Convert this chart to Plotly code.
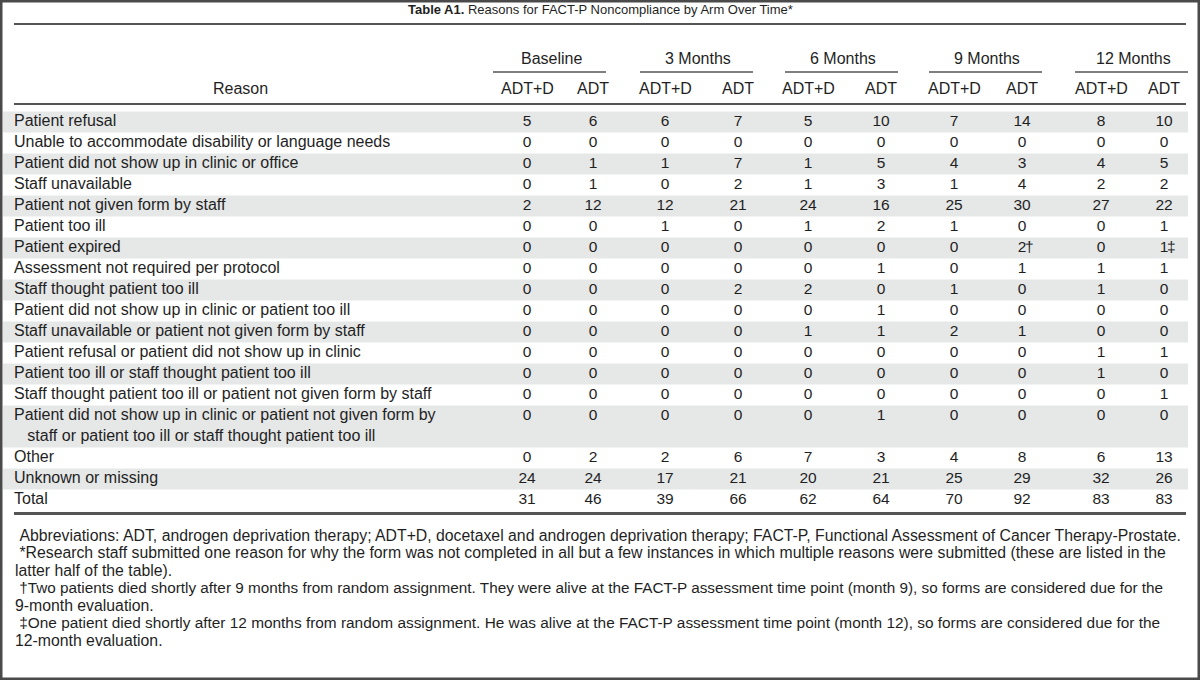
import plotly.graph_objects as go

# Table A1 - reasons for FACT-P noncompliance by arm over time
reasons = [
    "Patient refusal",
    "Unable to accommodate disability or language needs",
    "Patient did not show up in clinic or office",
    "Staff unavailable",
    "Patient not given form by staff",
    "Patient too ill",
    "Patient expired",
    "Assessment not required per protocol",
    "Staff thought patient too ill",
    "Patient did not show up in clinic or patient too ill",
    "Staff unavailable or patient not given form by staff",
    "Patient refusal or patient did not show up in clinic",
    "Patient too ill or staff thought patient too ill",
    "Staff thought patient too ill or patient not given form by staff",
    "Patient did not show up in clinic or patient not given form by<br>\u00a0\u00a0\u00a0staff or patient too ill or staff thought patient too ill",
    "Other",
    "Unknown or missing",
    "Total",
]
time_points = ["Baseline", "3 Months", "6 Months", "9 Months", "12 Months"]
arms = ["ADT+D", "ADT"]

baseline_adtd = [5, 0, 0, 0, 2, 0, 0, 0, 0, 0, 0, 0, 0, 0, 0, 0, 24, 31]
baseline_adt = [6, 0, 1, 1, 12, 0, 0, 0, 0, 0, 0, 0, 0, 0, 0, 2, 24, 46]
m3_adtd = [6, 0, 1, 0, 12, 1, 0, 0, 0, 0, 0, 0, 0, 0, 0, 2, 17, 39]
m3_adt = [7, 0, 7, 2, 21, 0, 0, 0, 2, 0, 0, 0, 0, 0, 0, 6, 21, 66]
m6_adtd = [5, 0, 1, 1, 24, 1, 0, 0, 2, 0, 1, 0, 0, 0, 0, 7, 20, 62]
m6_adt = [10, 0, 5, 3, 16, 2, 0, 1, 0, 1, 1, 0, 0, 0, 1, 3, 21, 64]
m9_adtd = [7, 0, 4, 1, 25, 1, 0, 0, 1, 0, 2, 0, 0, 0, 0, 4, 25, 70]
m9_adt = [14, 0, 3, 4, 30, 0, 2, 1, 0, 0, 1, 0, 0, 0, 0, 8, 29, 92]
m12_adtd = [8, 0, 4, 2, 27, 0, 0, 1, 1, 0, 0, 1, 1, 0, 0, 6, 32, 83]
m12_adt = [10, 0, 5, 2, 22, 1, 1, 1, 0, 0, 0, 1, 0, 1, 0, 13, 26, 83]

columns = [baseline_adtd, baseline_adt, m3_adtd, m3_adt, m6_adtd,
           m6_adt, m9_adtd, m9_adt, m12_adtd, m12_adt]
# footnote marks: (column index, row index, mark)
marks = [(7, 6, "\u2020"), (9, 6, "\u2021")]

title = "<b>Table A1.</b> Reasons for FACT-P Noncompliance by Arm Over Time*"
footnotes = [
    "\u00a0Abbreviations: ADT, androgen deprivation therapy; ADT+D, docetaxel and androgen deprivation therapy; FACT-P, Functional Assessment of Cancer Therapy-Prostate.",
    "\u00a0*Research staff submitted one reason for why the form was not completed in all but a few instances in which multiple reasons were submitted (these are listed in the",
    "latter half of the table).",
    "\u00a0\u2020Two patients died shortly after 9 months from random assignment. They were alive at the FACT-P assessment time point (month 9), so forms are considered due for the",
    "9-month evaluation.",
    "\u00a0\u2021One patient died shortly after 12 months from random assignment. He was alive at the FACT-P assessment time point (month 12), so forms are considered due for the",
    "12-month evaluation.",
]

# layout geometry (pixels)
W, H = 1200, 680
FONT = "Liberation Sans"
TXT = "#1f1f1f"
RULE = "#555555"
SHADE = "#e6e7e7"
col_x = [527, 593, 665, 738, 808, 881, 954, 1022, 1101, 1164]
group_x = [551, 698, 843, 987, 1133]
first_line_y = 122
line_h = 21
foot_sizes = [15.8, 15.8, 15.8, 15.3, 15.8, 15.4, 15.8]

# y of each row (first text line) and number of lines
row_lines = [2 if "<br>" in r else 1 for r in reasons]
row_y = []
y = first_line_y
for n in row_lines:
    row_y.append(y)
    y += line_h * n

fig = go.Figure()

shapes = []
for i, (ry, n) in enumerate(zip(row_y, row_lines)):
    if i % 2 == 0:
        shapes.append(dict(type="rect", x0=3, x1=1188, y0=ry - line_h / 2,
                           y1=ry - line_h / 2 + line_h * n,
                           fillcolor=SHADE, line_width=0, layer="below"))

# rules
shapes.append(dict(type="line", x0=14, x1=1186, y0=24, y1=24, line=dict(color=RULE, width=2)))
shapes.append(dict(type="line", x0=14, x1=1186, y0=104, y1=104, line=dict(color=RULE, width=2)))
last = row_y[-1] + line_h / 2 + 3
shapes.append(dict(type="line", x0=14, x1=1186, y0=last, y1=last, line=dict(color=RULE, width=3)))
for gx in group_x:
    shapes.append(dict(type="line", x0=gx - 58, x1=gx + 55, y0=72, y1=72,
                       line=dict(color=RULE, width=1.5)))
# frame
shapes.append(dict(type="rect", xref="paper", yref="paper", x0=0, x1=1, y0=0, y1=1,
                   line=dict(color="#4a4a4a", width=5)))

# reason labels
label_y = [ry + line_h * (n - 1) / 2 for ry, n in zip(row_y, row_lines)]
fig.add_trace(go.Scatter(
    x=[14] * len(reasons), y=label_y, text=reasons, mode="text",
    textposition="middle right", textfont=dict(family=FONT, size=16, color=TXT),
    hoverinfo="skip", showlegend=False))

# numbers
xs, ys, ts = [], [], []
for cx, vals in zip(col_x, columns):
    for ry, v in zip(row_y, vals):
        xs.append(cx)
        ys.append(ry)
        ts.append(str(v))
fig.add_trace(go.Scatter(
    x=xs, y=ys, text=ts, mode="text", textposition="middle center",
    textfont=dict(family=FONT, size=15.5, color=TXT), hoverinfo="skip", showlegend=False))

fig.add_trace(go.Scatter(
    x=[col_x[c] + 3 for c, r, m in marks], y=[row_y[r] for c, r, m in marks],
    text=[m for c, r, m in marks], mode="text", textposition="middle right",
    textfont=dict(family=FONT, size=15.5, color=TXT), hoverinfo="skip", showlegend=False))

# headers
annotations = [
    dict(x=600, y=9, text=title, showarrow=False, xanchor="center", yanchor="middle",
         font=dict(family=FONT, size=13, color=TXT)),
    dict(x=240, y=88, text="Reason", showarrow=False, xanchor="center", yanchor="middle",
         font=dict(family=FONT, size=16, color=TXT)),
]
for gx, tp in zip(group_x, time_points):
    annotations.append(dict(x=gx, y=58, text=tp, showarrow=False, xanchor="center",
                            yanchor="middle", font=dict(family=FONT, size=16, color=TXT)))
for i, cx in enumerate(col_x):
    annotations.append(dict(x=cx, y=88, text=arms[i % 2], showarrow=False, xanchor="center",
                            yanchor="middle", font=dict(family=FONT, size=16, color=TXT)))

fy = 535
for k, line in enumerate(footnotes):
    annotations.append(dict(x=13, y=fy + k * 17.5, text=line, showarrow=False, xanchor="left",
                            yanchor="middle",
                            font=dict(family=FONT, size=foot_sizes[k], color=TXT)))

fig.update_layout(
    width=W, height=H, autosize=False,
    margin=dict(l=0, r=0, t=0, b=0),
    paper_bgcolor="white", plot_bgcolor="white",
    xaxis=dict(range=[0, W], visible=False, fixedrange=True),
    yaxis=dict(range=[H, 0], visible=False, fixedrange=True),
    shapes=shapes, annotations=annotations,
)

# page body has a default margin; drop it so the figure fills the window
fig.write_html("out.html", config={"displayModeBar": False},
               post_script="document.body.style.margin='0px';")
